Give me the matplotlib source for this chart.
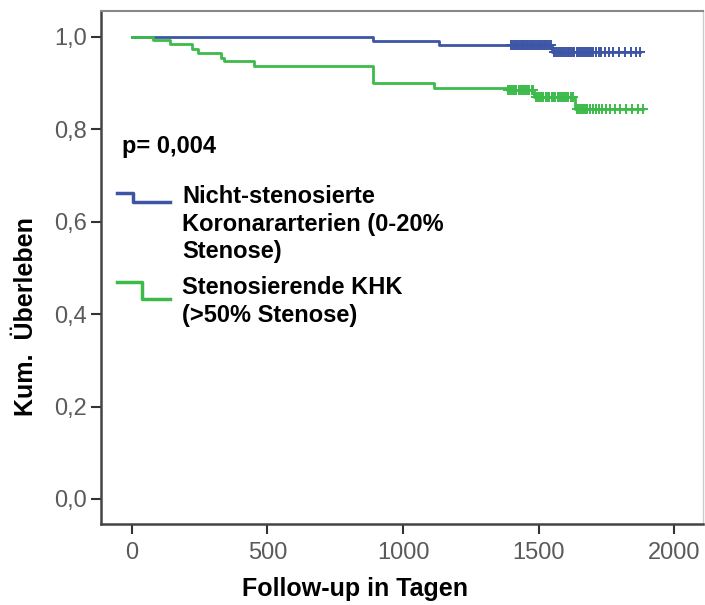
import numpy as np
import matplotlib
matplotlib.use("Agg")
import matplotlib.pyplot as plt

plt.rcParams['font.family'] = ['Liberation Sans', 'DejaVu Sans']

# Kaplan-Meier step data (time in days, cumulative survival)
blue_t = [0, 888, 1134, 1550, 1875]
blue_s = [1.0, 0.991, 0.983, 0.967, 0.967]
green_t = [0, 77, 139, 223, 242, 329, 341, 451, 888, 1116, 1384, 1483, 1635, 1886]
green_s = [1.0, 0.992, 0.984, 0.973, 0.965, 0.955, 0.947, 0.937, 0.900, 0.889,
           0.884, 0.869, 0.843, 0.843]

# censored observations
blue_cens = [1398, 1405, 1412, 1418, 1424, 1430, 1437, 1443, 1450, 1456, 1462, 1468,
             1475, 1481, 1487, 1494, 1500, 1506, 1512, 1519, 1525, 1531, 1538, 1544,
             1556, 1562, 1568, 1575, 1581, 1588, 1594, 1600, 1607, 1613, 1619, 1626,
             1632, 1640, 1648, 1655, 1662, 1670, 1678, 1686, 1694, 1702, 1712, 1722,
             1732, 1745, 1760, 1775, 1795, 1818, 1840, 1858, 1875]
green_cens = [1388, 1395, 1402, 1410, 1418, 1426, 1434, 1442, 1450, 1458, 1466, 1474,
              1480, 1490, 1497, 1504, 1511, 1518, 1526, 1533, 1540, 1548, 1555, 1562,
              1570, 1578, 1586, 1594, 1602, 1610, 1618, 1628, 1640, 1648, 1656, 1664,
              1672, 1680, 1690, 1700, 1710, 1722, 1735, 1748, 1762, 1780, 1800, 1822,
              1845, 1866, 1886]

x_ticks = [0, 500, 1000, 1500, 2000]
y_ticks = [0.0, 0.2, 0.4, 0.6, 0.8, 1.0]
y_labels = ["0,0", "0,2", "0,4", "0,6", "0,8", "1,0"]

blue = "#3d55a5"
green = "#3dbb4a"


def surv_at(times, steps_t, steps_s):
    idx = np.searchsorted(steps_t, times, side="right") - 1
    return np.array(steps_s)[idx]


fig = plt.figure(figsize=(7.05, 6.05), dpi=100)
ax = fig.add_axes([0.1433, 0.134, 0.8537, 0.848])

ax.step(blue_t, blue_s, where="post", color=blue, lw=2.0)
ax.plot(blue_cens, surv_at(blue_cens, blue_t, blue_s), "+", color=blue, ms=7, mew=1.4)
ax.step(green_t, green_s, where="post", color=green, lw=2.0)
ax.plot(green_cens, surv_at(green_cens, green_t, green_s), "+", color=green, ms=7, mew=1.4)

ax.set_xlim(-114, 2106)
ax.set_ylim(-0.054, 1.056)
ax.set_xticks(x_ticks)
ax.set_yticks(y_ticks)
ax.set_yticklabels(y_labels)
ax.tick_params(direction="out", length=7, width=1.5, color="#333333",
               labelsize=17, labelcolor="#5a5a5a")
ax.tick_params(axis="x", pad=6)
ax.tick_params(axis="y", pad=3)

for side in ["left", "bottom"]:
    ax.spines[side].set_color("#444444")
    ax.spines[side].set_linewidth(1.8)
ax.spines["top"].set_color("#888888")
ax.spines["top"].set_linewidth(1.5)
ax.spines["right"].set_color("#cccccc")
ax.spines["right"].set_linewidth(1.0)

ax.set_xlabel("Follow-up in Tagen", fontsize=18, fontweight="bold")
ax.xaxis.set_label_coords(0.422, -0.103)
ax.set_ylabel("Kum.  Überleben", fontsize=18, fontweight="bold")
ax.yaxis.set_label_coords(-0.104, 0.405)

ax.text(0.0344, 0.7226, "p= 0,004", transform=ax.transAxes, fontsize=17,
        fontweight="bold", va="baseline", ha="left")

# legend symbols drawn as small steps
ax.plot([0.0266, 0.053, 0.053, 0.1146], [0.6458, 0.6458, 0.6283, 0.6283],
        transform=ax.transAxes, color=blue, lw=2.5, clip_on=False)
ax.plot([0.0266, 0.068, 0.068, 0.1146], [0.4717, 0.4717, 0.4386, 0.4386],
        transform=ax.transAxes, color=green, lw=2.5, clip_on=False)

ax.text(0.135, 0.5185, "Nicht-stenosierte\nKoronararterien (0-20%\nStenose)",
        transform=ax.transAxes, fontsize=17, fontweight="bold", va="baseline",
        ha="left", linespacing=1.24)
ax.text(0.135, 0.3944, "Stenosierende KHK\n(>50% Stenose)",
        transform=ax.transAxes, fontsize=17, fontweight="bold", va="baseline",
        ha="left", linespacing=1.24)

fig.savefig("out.png", dpi=100)
